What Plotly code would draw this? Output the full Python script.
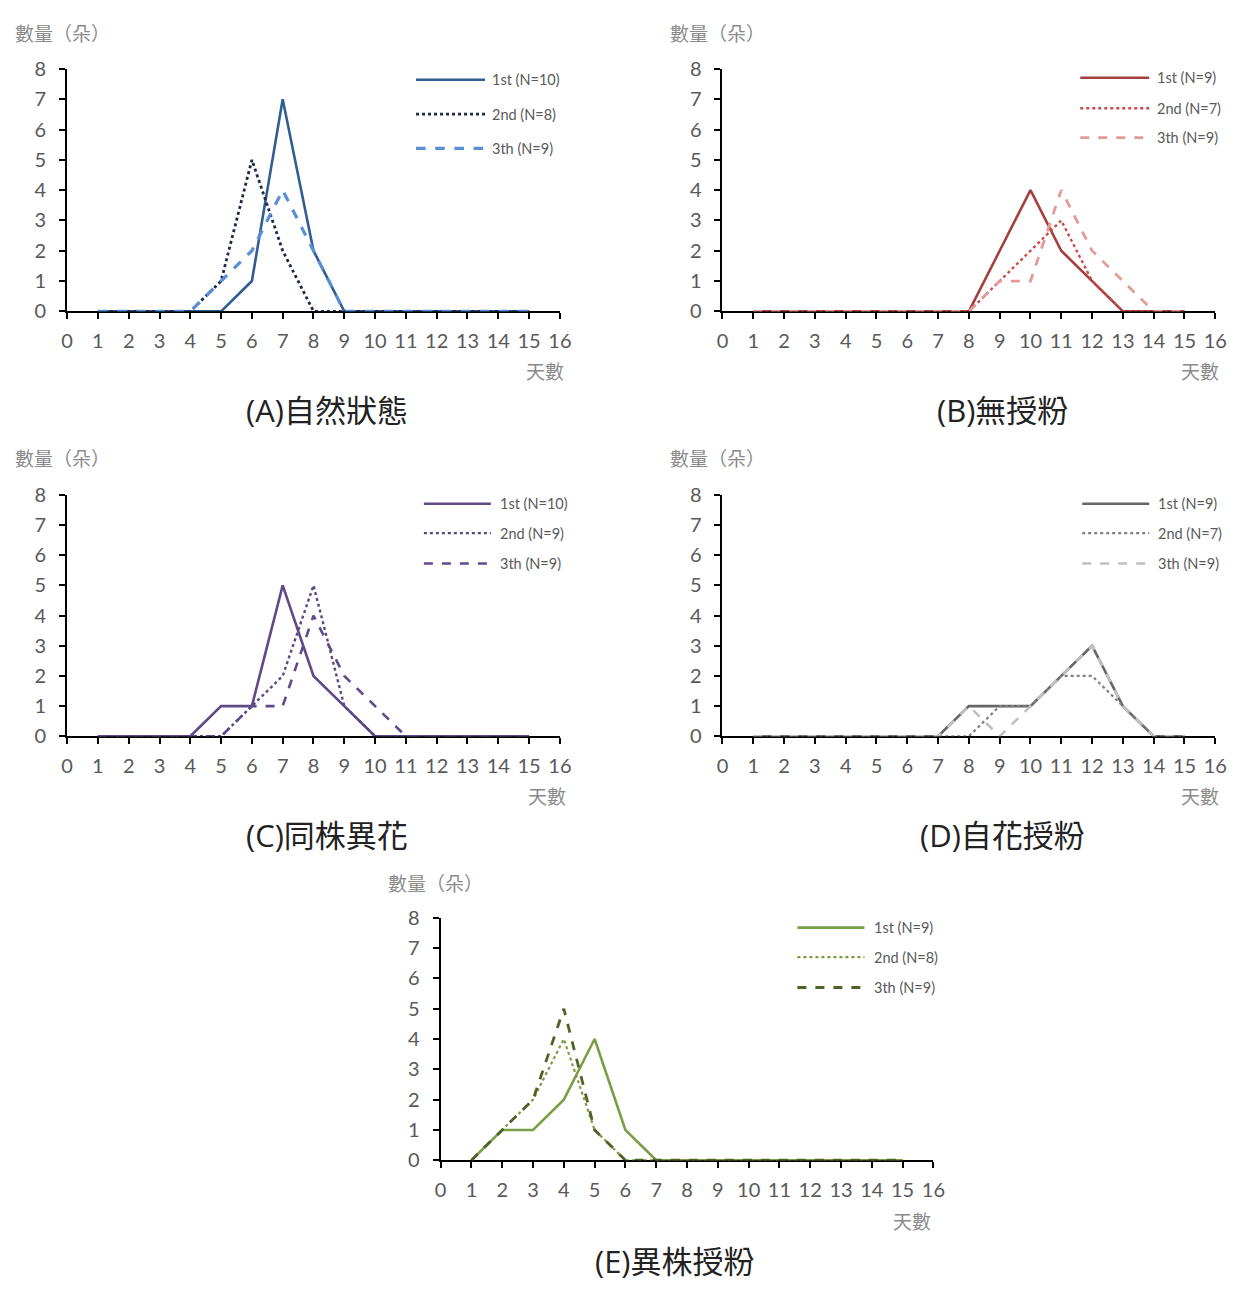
import plotly.graph_objects as go

W, H = 1246, 1289

days = list(range(1, 16))

# ---- data ----
a_names = ["1st (N=10)", "2nd (N=8)", "3th (N=9)"]
a_1st = [0, 0, 0, 0, 0, 1, 7, 2, 0, 0, 0, 0, 0, 0, 0]
a_2nd = [0, 0, 0, 0, 1, 5, 2, 0, 0, 0, 0, 0, 0, 0, 0]
a_3rd = [0, 0, 0, 0, 1, 2, 4, 2, 0, 0, 0, 0, 0, 0, 0]

b_names = ["1st (N=9)", "2nd (N=7)", "3th (N=9)"]
b_1st = [0, 0, 0, 0, 0, 0, 0, 0, 2, 4, 2, 1, 0, 0, 0]
b_2nd = [0, 0, 0, 0, 0, 0, 0, 0, 1, 2, 3, 1, 0, 0, 0]
b_3rd = [0, 0, 0, 0, 0, 0, 0, 0, 1, 1, 4, 2, 1, 0, 0]

c_names = ["1st (N=10)", "2nd (N=9)", "3th (N=9)"]
c_1st = [0, 0, 0, 0, 1, 1, 5, 2, 1, 0, 0, 0, 0, 0, 0]
c_2nd = [0, 0, 0, 0, 0, 1, 2, 5, 1, 0, 0, 0, 0, 0, 0]
c_3rd = [0, 0, 0, 0, 0, 1, 1, 4, 2, 1, 0, 0, 0, 0, 0]

d_names = ["1st (N=9)", "2nd (N=7)", "3th (N=9)"]
d_1st = [0, 0, 0, 0, 0, 0, 0, 1, 1, 1, 2, 3, 1, 0, 0]
d_2nd = [0, 0, 0, 0, 0, 0, 0, 0, 1, 1, 2, 2, 1, 0, 0]
d_3rd = [0, 0, 0, 0, 0, 0, 0, 1, 0, 1, 2, 3, 1, 0, 0]

e_names = ["1st (N=9)", "2nd (N=8)", "3th (N=9)"]
e_1st = [0, 1, 1, 2, 4, 1, 0, 0, 0, 0, 0, 0, 0, 0, 0]
e_2nd = [0, 1, 2, 4, 1, 0, 0, 0, 0, 0, 0, 0, 0, 0, 0]
e_3rd = [0, 1, 2, 5, 1, 0, 0, 0, 0, 0, 0, 0, 0, 0, 0]

x_ticks = list(range(0, 17))
y_ticks = list(range(0, 9))
y_title = "數量（朵）"
x_title = "天數"
panel_titles = ["(A)自然狀態", "(B)無授粉", "(C)同株異花", "(D)自花授粉", "(E)異株授粉"]

# ---- styles / layout geometry (pixels) ----
panels = [
    dict(series=[a_1st, a_2nd, a_3rd], names=a_names,
         colors=["#305d92", "#1c2b48", "#5a8fd8"], widths=[2.6, 2.8, 3.2],
         x0=62, x1=562, yt=57, yb=304, ytl=(7, 20), xtl=(568, 364), ttl=(326, 405),
         leg=(416, 486, 491, [68, 103, 138])),
    dict(series=[b_1st, b_2nd, b_3rd], names=b_names,
         colors=["#a53f3d", "#cc4a4a", "#e39b9a"], widths=[2.6, 2.4, 2.8],
         x0=727, x1=1227, yt=57, yb=304, ytl=(672, 20), xtl=(1233, 364), ttl=(1011, 405),
         leg=(1090, 1160, 1166, [66, 97, 127])),
    dict(series=[c_1st, c_2nd, c_3rd], names=c_names,
         colors=["#5f4a87", "#5a4682", "#5f4b8b"], widths=[2.6, 2.4, 2.6],
         x0=62, x1=562, yt=491, yb=737, ytl=(7, 453), xtl=(570, 797), ttl=(326, 838),
         leg=(424, 492, 499, [500, 530, 561])),
    dict(series=[d_1st, d_2nd, d_3rd], names=d_names,
         colors=["#666666", "#7f7f7f", "#c0c0c0"], widths=[2.6, 2.2, 2.6],
         x0=727, x1=1227, yt=491, yb=737, ytl=(672, 453), xtl=(1233, 797), ttl=(1011, 838),
         leg=(1092, 1160, 1167, [500, 530, 561])),
    dict(series=[e_1st, e_2nd, e_3rd], names=e_names,
         colors=["#7b9f47", "#7a9e3e", "#4f6228"], widths=[2.6, 2.2, 2.8],
         x0=441, x1=941, yt=922, yb=1169, ytl=(386, 886), xtl=(941, 1230), ttl=(679, 1272),
         leg=(803, 871, 879, [932, 962, 993])),
]
dashes = ["solid", "dot", "dash"]

NUM_FONT = "Lato, 'Noto Sans CJK TC', sans-serif"
CJK_FONT = "'Noto Sans CJK TC', sans-serif"


def px(x):
    return x / W


def py(y):
    return 1 - y / H


fig = go.Figure()
shapes = []
annotations = []

for i, p in enumerate(panels):
    k = "" if i == 0 else str(i + 1)
    xa, ya = "x" + k, "y" + k
    for s, name, col, dash, lw in zip(p["series"], p["names"], p["colors"], dashes, p["widths"]):
        fig.add_trace(go.Scatter(x=days, y=s, mode="lines", name=name,
                                 line=dict(color=col, width=lw, dash=dash),
                                 xaxis=xa, yaxis=ya, showlegend=False,
                                 cliponaxis=False, hoverinfo="skip"))
    axis_common = dict(showline=True, linecolor="black", linewidth=2,
                       ticks="outside", tickcolor="black", ticklen=6, tickwidth=1.5,
                       showgrid=False, zeroline=False, layer="below traces",
                       tickfont=dict(family=NUM_FONT, size=20, color="#595959"),
                       fixedrange=True)
    fig.update_layout(**{
        "xaxis" + k: dict(axis_common, domain=[px(p["x0"]), px(p["x1"])], range=[0, 16],
                          tickmode="array", tickvals=x_ticks, ticktext=[str(t) for t in x_ticks],
                          anchor=ya, ticklabelstandoff=5),
        "yaxis" + k: dict(axis_common, domain=[py(p["yb"]), py(p["yt"])], range=[0, 8],
                          tickmode="array", tickvals=y_ticks, ticktext=[str(t) for t in y_ticks],
                          anchor=xa, ticklabelstandoff=9),
    })
    # y title
    annotations.append(dict(text=y_title, x=px(p["ytl"][0]), y=py(p["ytl"][1]), xref="paper", yref="paper",
                            xanchor="left", yanchor="middle", showarrow=False,
                            font=dict(family=CJK_FONT, size=19, color="#8a8a8a")))
    # x title
    annotations.append(dict(text=x_title, x=px(p["xtl"][0]), y=py(p["xtl"][1]), xref="paper", yref="paper",
                            xanchor="right", yanchor="middle", showarrow=False,
                            font=dict(family=CJK_FONT, size=19, color="#8a8a8a")))
    # panel title
    annotations.append(dict(text=panel_titles[i], x=px(p["ttl"][0]), y=py(p["ttl"][1]), xref="paper", yref="paper",
                            xanchor="center", yanchor="middle", showarrow=False,
                            font=dict(family="'Open Sans', 'Noto Sans CJK TC', sans-serif", size=31, color="#222222")))
    # legend
    lx0, lx1, tx, ys = p["leg"]
    for name, col, dash, lw, yy in zip(p["names"], p["colors"], dashes, p["widths"], ys):
        shapes.append(dict(type="line", xref="paper", yref="paper",
                           x0=px(lx0), x1=px(lx1), y0=py(yy), y1=py(yy),
                           line=dict(color=col, width=lw, dash=dash)))
        annotations.append(dict(text=name, x=px(tx), y=py(yy), xref="paper", yref="paper",
                                xanchor="left", yanchor="middle", showarrow=False,
                                font=dict(family=NUM_FONT, size=14.5, color="#595959")))

fig.update_layout(width=W, height=H, margin=dict(l=0, r=0, t=0, b=0),
                  paper_bgcolor="white", plot_bgcolor="white",
                  shapes=shapes, annotations=annotations, showlegend=False)

fig.write_html("out.html", config={"displayModeBar": False},
               post_script="document.documentElement.style.margin='0';"
                           "document.body.style.margin='0';document.body.style.padding='0';"
                           "document.body.style.overflow='hidden';")
